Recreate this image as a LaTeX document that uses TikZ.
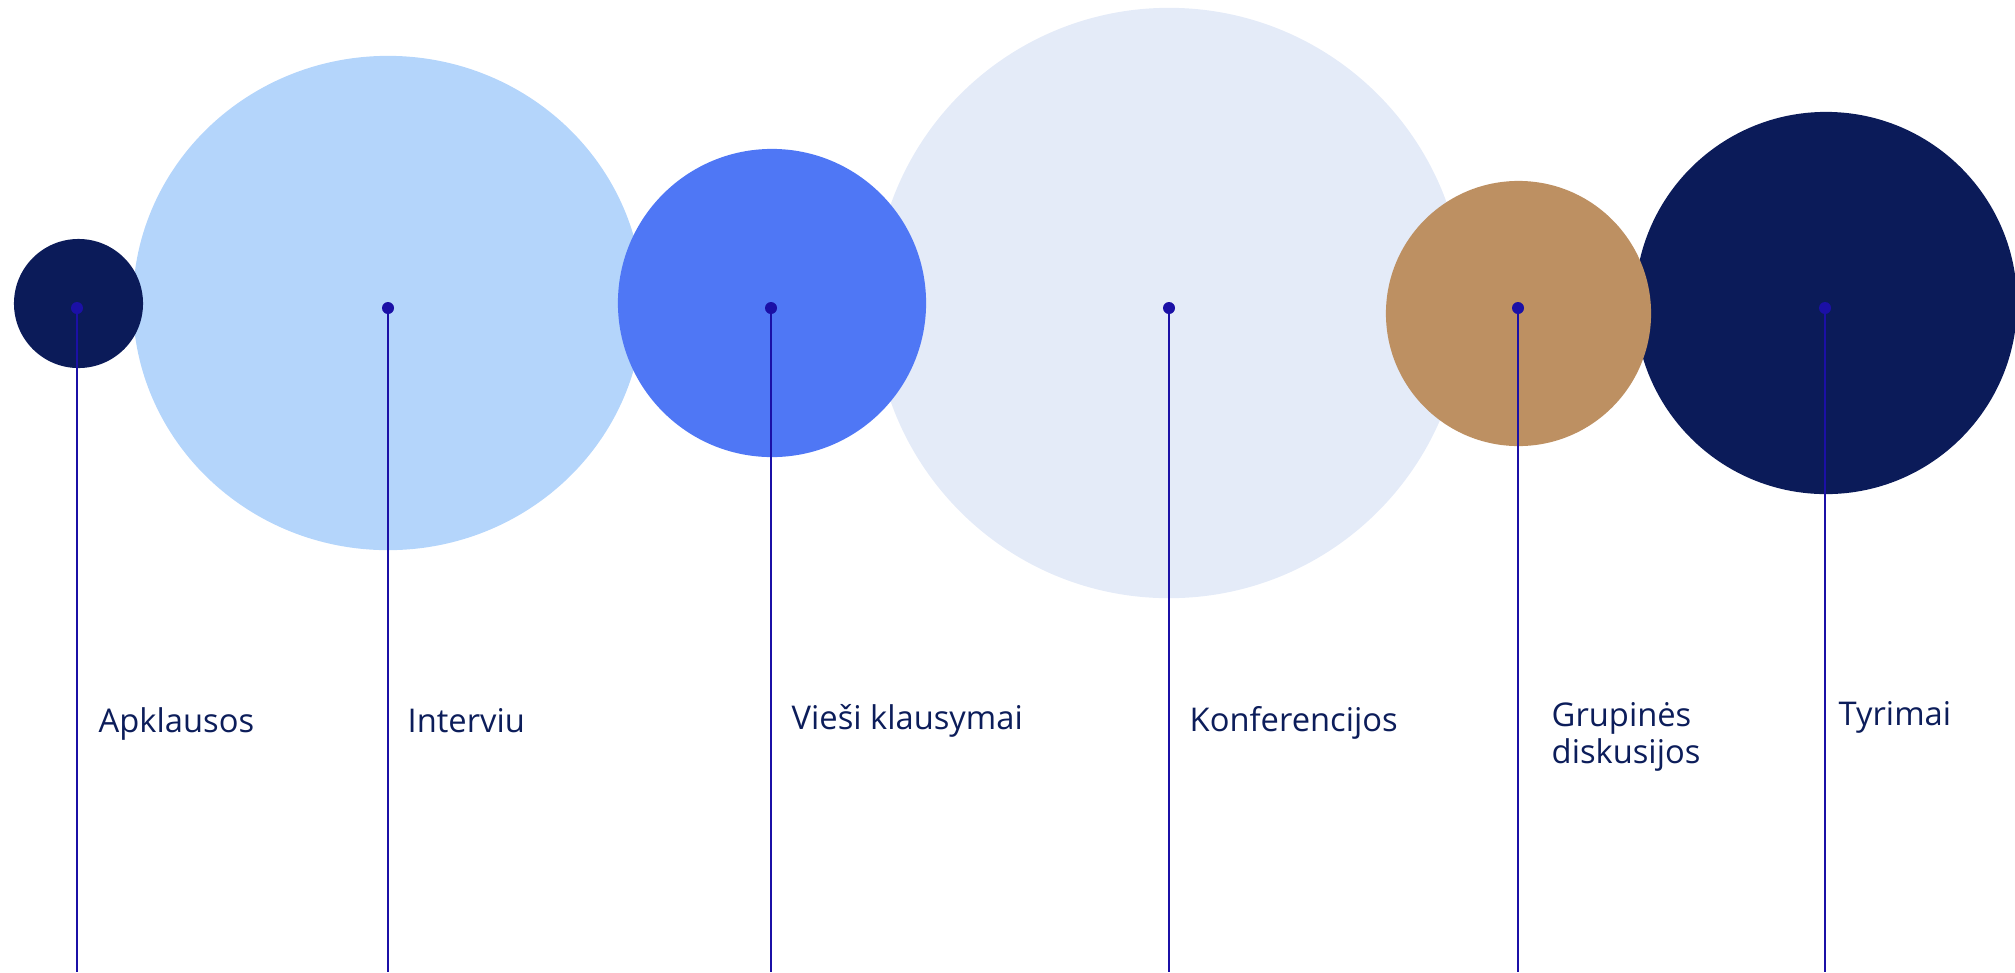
\documentclass[tikz,border=0pt]{standalone}
\usepackage{fontspec}
\setmainfont{Open Sans}
\usetikzlibrary{shapes.geometric}
\definecolor{navy}{HTML}{0B1B59}
\definecolor{sky}{HTML}{B4D5FB}
\definecolor{royal}{HTML}{4F77F5}
\definecolor{pale}{HTML}{E4EBF8}
\definecolor{tan}{HTML}{BD9062}
\definecolor{linec}{HTML}{1B10A6}
\definecolor{textc}{HTML}{0C1D5A}
\tikzset{
  disc/.style={circle, draw=none, inner sep=0pt},
  oval/.style={ellipse, draw=none, inner sep=0pt},
  dotnode/.style={circle, fill=linec, draw=none, inner sep=0pt, minimum size=0.12cm},
  conn/.style={draw=linec, line width=0.65pt},
  lbl/.style={anchor=base west, inner sep=0pt, text=textc, font=\fontsize{9.3}{8.8}\selectfont, align=left}
}
\begin{document}
\begin{tikzpicture}[x=0.01cm, y=-0.01cm]
\useasboundingbox (0,0) rectangle (2015,972);
% back circles
\node[oval, fill=sky, minimum width=5.1cm, minimum height=4.94cm] (c2) at (388,303) {};
\node[disc, fill=pale, minimum size=5.9cm] (c4) at (1169,303) {};
\node[disc, fill=navy, minimum size=3.82cm] (c6) at (1826,303) {};
% front circles
\node[disc, fill=navy, minimum size=1.29cm] (c1) at (78.5,303.5) {};
\node[disc, fill=royal, minimum size=3.08cm] (c3) at (772,303) {};
\node[disc, fill=tan, minimum size=2.65cm] (c5) at (1518.5,313.5) {};
% dots
\node[dotnode] (d1) at (77,308) {};
\node[dotnode] (d2) at (388,308) {};
\node[dotnode] (d3) at (771,308) {};
\node[dotnode] (d4) at (1169,308) {};
\node[dotnode] (d5) at (1518,308) {};
\node[dotnode] (d6) at (1825,308) {};
% line ends
\coordinate (e1) at (77,972);
\coordinate (e2) at (388,972);
\coordinate (e3) at (771,972);
\coordinate (e4) at (1169,972);
\coordinate (e5) at (1518,972);
\coordinate (e6) at (1825,972);
\draw[conn] (d1.center) -- (e1);
\draw[conn] (d2.center) -- (e2);
\draw[conn] (d3.center) -- (e3);
\draw[conn] (d4.center) -- (e4);
\draw[conn] (d5.center) -- (e5);
\draw[conn] (d6.center) -- (e6);
% labels
\node[lbl] (t1) at (98,732) {Apklausos};
\node[lbl] (t2) at (407,732) {Interviu};
\node[lbl] (t3) at (791,729) {Vieši klausymai};
\node[lbl] (t4) at (1189,731) {Konferencijos};
\node[lbl] (t5) at (1551,763) {Grupinės\\diskusijos};
\node[lbl] (t6) at (1838,725) {Tyrimai};
\end{tikzpicture}
\end{document}
